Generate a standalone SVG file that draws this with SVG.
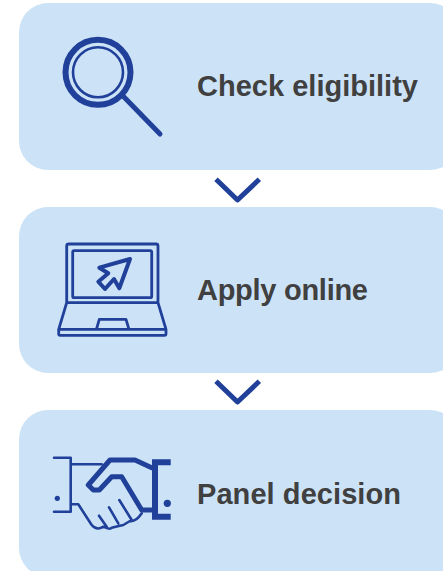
<svg xmlns="http://www.w3.org/2000/svg" width="443" height="571" viewBox="0 0 443 571">
<style>
.card{fill:#cce3f7}
.ic{fill:none;stroke:#20409a;stroke-linecap:round;stroke-linejoin:round}
.dot{fill:#20409a}
.lb{font-family:"Liberation Sans",Arial,sans-serif;font-weight:700;font-size:29px;fill:#404040}
</style>
<rect width="443" height="571" fill="#fff"/>
<g id="node-check">
<rect class="card" x="19" y="3" width="440" height="167" rx="29"/>
<circle class="ic" cx="98" cy="72.3" r="32.5" stroke-width="6"/>
<circle class="ic" cx="98" cy="72.3" r="25" stroke-width="2.6"/>
<path class="ic" d="M123 96L160 134" stroke-width="5"/>
<text class="lb" x="197" y="96" textLength="221">Check eligibility</text>
</g>
<g id="node-apply">
<rect class="card" x="19" y="207" width="440" height="166" rx="29"/>
<g class="ic" stroke-width="2.8">
<rect x="66.7" y="244" width="91.3" height="58.7" rx="2"/>
<rect x="72.7" y="250.7" width="79" height="47" rx="1.5"/>
<path d="M66.7 302.7L58.7 329.3M158 302.7L166 329.3"/>
<rect x="58.7" y="329.3" width="107.3" height="6" rx="1.5"/>
<path d="M96.7 328.3L99.3 319.3H126L128.7 328.3"/>
<path d="M130 259L99.3 267.7L108.3 273.3L98.3 281.7L105 289L114 279L119.3 288.3Z" stroke-width="4"/>
</g>
<text class="lb" x="197" y="300" textLength="171">Apply online</text>
</g>
<g id="node-panel">
<rect class="card" x="19" y="410" width="440" height="167" rx="29"/>
<g class="ic">
<path d="M54 457.7H70.7V511.7H54M70.7 464.3H101.7M70.7 504.3H78.3L91.7 525Q96.7 531 103.3 526.7Q110 530 111.7 527.7Q118 526 123.3 525L130 521Q136 522 141.7 513.3M119.3 500L131.7 520M109 507.3L118.3 523.3M99 515.7L106.7 526.7" stroke-width="2.6"/>
<path d="M151.7 467.7L135 460H110L88.3 485L93.3 490H99.3L111.7 476.7H121.7L141.7 510H153.3" stroke-width="5"/>
<path d="M170.7 462.3H155V516.7H170.7" stroke-width="6" stroke-linecap="butt" stroke-linejoin="miter"/>
</g>
<circle class="dot" cx="57.3" cy="498.3" r="2.6"/>
<circle class="dot" cx="167.3" cy="503.3" r="3.6"/>
<text class="lb" x="197" y="504" textLength="204">Panel decision</text>
</g>
<g id="connectors" class="ic" stroke-width="5" style="stroke-linecap:butt">
<path d="M216 179.3L237.5 200L259.3 179.3"/>
<path d="M216 381.3L237.5 402L259.3 381.3"/>
</g>
</svg>
